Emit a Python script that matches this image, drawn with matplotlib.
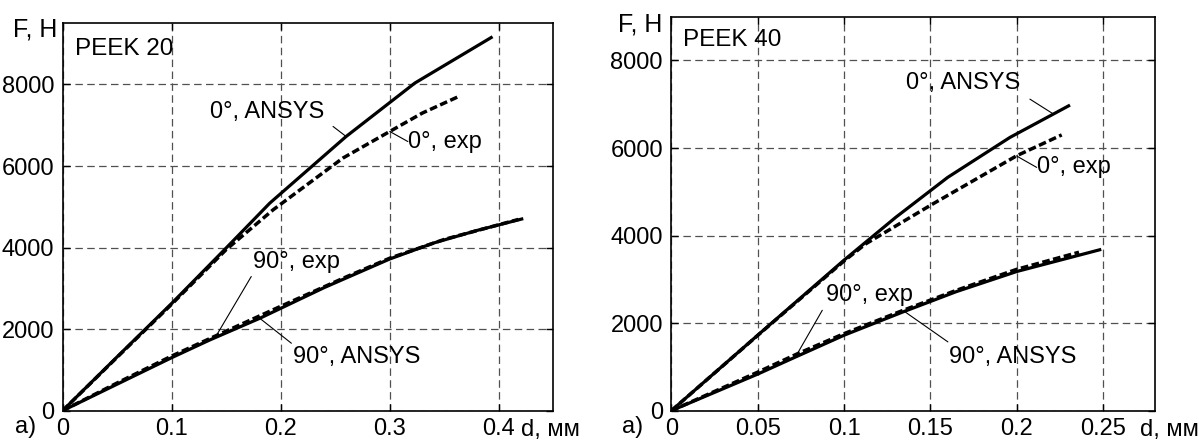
"""Force-displacement curves for PEEK 20 / PEEK 40, ANSYS vs experiment."""

import matplotlib
matplotlib.use("Agg")
import matplotlib.pyplot as plt
import numpy as np

plt.rcParams["font.family"] = ["Liberation Sans", "DejaVu Sans"]

# ---- PEEK 20 (left panel) ----
d0_ansys_20 = [0, 0.05, 0.10, 0.15, 0.19, 0.26, 0.323, 0.393]
F0_ansys_20 = [0, 1320, 2630, 3990, 5090, 6724, 8034, 9150]
d0_exp_20 = [0, 0.05, 0.10, 0.15, 0.193, 0.257, 0.30, 0.33, 0.362]
F0_exp_20 = [0, 1310, 2610, 3950, 4925, 6194, 6847, 7300, 7690]
d90_ansys_20 = [0, 0.05, 0.10, 0.135, 0.181, 0.24, 0.30, 0.34, 0.38, 0.421]
F90_ansys_20 = [0, 650, 1300, 1735, 2268, 3020, 3720, 4110, 4420, 4700]
d90_exp_20 = [0, 0.05, 0.10, 0.14, 0.20, 0.26, 0.30, 0.35, 0.418]
F90_exp_20 = [0, 680, 1340, 1830, 2560, 3280, 3740, 4200, 4690]

# ---- PEEK 40 (right panel) ----
d0_ansys_40 = [0, 0.05, 0.10, 0.13, 0.16, 0.196, 0.23]
F0_ansys_40 = [0, 1724, 3440, 4420, 5330, 6242, 6964]
d0_exp_40 = [0, 0.05, 0.10, 0.1126, 0.1514, 0.20, 0.226]
F0_exp_40 = [0, 1720, 3420, 3813, 4724, 5825, 6300]
d90_ansys_40 = [0, 0.05, 0.07, 0.10, 0.134, 0.165, 0.20, 0.248]
F90_ansys_40 = [0, 836, 1193, 1724, 2255, 2720, 3180, 3676]
d90_exp_40 = [0, 0.05, 0.073, 0.10, 0.134, 0.165, 0.20, 0.236]
F90_exp_40 = [0, 880, 1300, 1760, 2290, 2750, 3230, 3620]

xticks_20 = [0, 0.1, 0.2, 0.3, 0.4]
xticklabels_20 = ["0", "0.1", "0.2", "0.3", "0.4"]
xticks_40 = [0, 0.05, 0.1, 0.15, 0.2, 0.25]
xticklabels_40 = ["0", "0.05", "0.1", "0.15", "0.2", "0.25"]
yticks = [0, 2000, 4000, 6000, 8000]

TICK_FS = 17
TXT_FS = 17


def leader(ax, label, text_xy, tail_xy, curve_d, curve_F, at_d):
    """Text label with a thin line pointing at the curve at d = at_d."""
    tip = (at_d, np.interp(at_d, curve_d, curve_F))
    ax.annotate("", xy=tip, xytext=tail_xy,
                arrowprops=dict(arrowstyle="-", lw=0.8, color="black",
                                shrinkA=0, shrinkB=0))
    ax.text(text_xy[0], text_xy[1], label, ha="left", va="center",
            fontsize=TXT_FS)


def style(ax, xlim, ylim, xticks, xticklabels, tag, xlab_x, flab_x, flab_y,
          tag_y, a_x):
    ax.set_xlim(*xlim)
    ax.set_ylim(*ylim)
    ax.set_xticks(xticks)
    ax.set_xticklabels(xticklabels)
    ax.set_yticks(yticks)
    ax.set_yticklabels([str(v) for v in yticks])
    ax.grid(True, color="#505050", lw=0.9, linestyle=(0, (6, 3.5)))
    ax.set_axisbelow(True)
    ax.tick_params(direction="in", top=True, right=True, length=5, width=1,
                   labelsize=TICK_FS)
    ax.tick_params(axis="x", pad=5)
    ax.tick_params(axis="y", pad=6)
    for s in ax.spines.values():
        s.set_linewidth(1.2)
    ax.text(xlab_x, -0.05, "d, мм", transform=ax.transAxes, ha="left",
            va="center", fontsize=TICK_FS)
    ax.text(flab_x, flab_y, "F, H", transform=ax.transAxes, ha="right",
            va="center", fontsize=18)
    ax.text(0.025, tag_y, tag, transform=ax.transAxes, ha="left",
            va="center", fontsize=17.5)
    ax.text(a_x, -0.041, "a)", transform=ax.transAxes, ha="center",
            va="center", fontsize=TICK_FS)


def draw(ax, d0a, F0a, d0e, F0e, d90a, F90a, d90e, F90e):
    ax.plot(d90e, F90e, color="black", lw=2.5, linestyle=(0, (2.2, 1.0)))
    ax.plot(d90a, F90a, color="black", lw=2.3)
    ax.plot(d0e, F0e, color="black", lw=2.5, linestyle=(0, (2.2, 1.0)))
    ax.plot(d0a, F0a, color="black", lw=2.3)


fig = plt.figure(figsize=(11.99, 4.40), dpi=100)
ax1 = fig.add_axes([0.0522, 0.0666, 0.4093, 0.8805])
ax2 = fig.add_axes([0.5599, 0.0666, 0.4034, 0.8954])

# left panel
draw(ax1, d0_ansys_20, F0_ansys_20, d0_exp_20, F0_exp_20,
     d90_ansys_20, F90_ansys_20, d90_exp_20, F90_exp_20)
style(ax1, (0, 0.45), (0, 9500), xticks_20, xticklabels_20, "PEEK 20",
      0.934, -0.011, 0.983, 0.934, -0.075)
leader(ax1, "0°, ANSYS", (0.135, 7330), (0.248, 6970),
       d0_ansys_20, F0_ansys_20, 0.260)
leader(ax1, "0°, exp", (0.3166, 6600), (0.3166, 6600),
       d0_exp_20, F0_exp_20, 0.300)
leader(ax1, "90°, exp", (0.1746, 3657), (0.173, 3290),
       d90_exp_20, F90_exp_20, 0.141)
leader(ax1, "90°, ANSYS", (0.2113, 1325), (0.2098, 1654),
       d90_ansys_20, F90_ansys_20, 0.1808)

# right panel
draw(ax2, d0_ansys_40, F0_ansys_40, d0_exp_40, F0_exp_40,
     d90_ansys_40, F90_ansys_40, d90_exp_40, F90_exp_40)
style(ax2, (0, 0.28), (0, 9000), xticks_40, xticklabels_40, "PEEK 40",
      0.969, -0.018, 0.979, 0.941, -0.080)
leader(ax2, "0°, ANSYS", (0.1359, 7495), (0.2076, 7117),
       d0_ansys_40, F0_ansys_40, 0.2212)
leader(ax2, "0°, exp", (0.2115, 5558), (0.2115, 5558),
       d0_exp_40, F0_exp_40, 0.1998)
leader(ax2, "90°, exp", (0.0894, 2636), (0.0874, 2294),
       d90_exp_40, F90_exp_40, 0.0729)
leader(ax2, "90°, ANSYS", (0.1607, 1230), (0.1601, 1572),
       d90_ansys_40, F90_ansys_40, 0.1349)

fig.savefig("out.png", dpi=100)
plt.close(fig)
